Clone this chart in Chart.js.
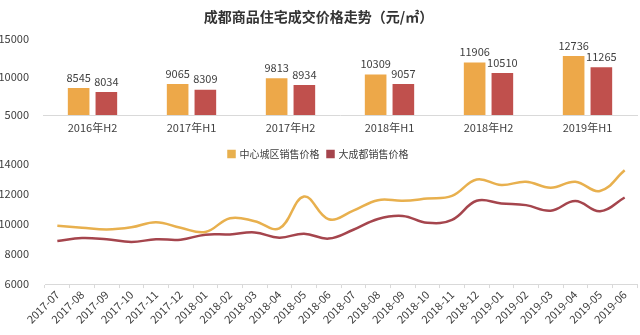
<!DOCTYPE html>
<html>
<head>
<meta charset="utf-8">
<script src="https://cdn.jsdelivr.net/npm/chart.js@4"></script>
<style>
  body { margin: 0; background: #fff; }
  #wrap { position: relative; width: 640px; height: 335px; }
  #top-box { position: absolute; left: 0; top: 0; width: 640px; height: 140px; }
  #bot-box { position: absolute; left: 0; top: 140px; width: 640px; height: 195px; }
</style>
</head>
<body>
<div id="wrap">
  <div id="top-box"><canvas id="bar-chart"></canvas></div>
  <div id="bot-box"><canvas id="line-chart"></canvas></div>
</div>
<script>
// half-year averages
const halfYears = ['2016年H2', '2017年H1', '2017年H2', '2018年H1', '2018年H2', '2019年H1'];
const centerHalf = [8545, 9065, 9813, 10309, 11906, 12736];
const cityHalf = [8034, 8309, 8934, 9057, 10510, 11265];

// monthly prices
const months = ['2017-07', '2017-08', '2017-09', '2017-10', '2017-11', '2017-12',
  '2018-01', '2018-02', '2018-03', '2018-04', '2018-05', '2018-06',
  '2018-07', '2018-08', '2018-09', '2018-10', '2018-11', '2018-12',
  '2019-01', '2019-02', '2019-03', '2019-04', '2019-05', '2019-06'];
const centerMonthly = [9880, 9760, 9640, 9780, 10120, 9750, 9470, 10390, 10190, 9710, 11830, 10320,
  10890, 11590, 11550, 11700, 11880, 12970, 12600, 12820, 12420, 12820, 12200, 13580];
const cityMonthly = [8870, 9070, 8980, 8810, 8980, 8960, 9290, 9310, 9440, 9090, 9360, 9030,
  9620, 10340, 10540, 10080, 10280, 11550, 11370, 11260, 10890, 11530, 10850, 11770];

const seriesNames = ['中心城区销售价格', '大成都销售价格'];

const FONT = '"Noto Sans CJK SC", "Noto Sans", sans-serif';
const TXT = '#404040';
const AXIS = '#d9d9d9';

const barLabels = {
  id: 'barLabels',
  afterDatasetsDraw(chart) {
    const ctx = chart.ctx;
    ctx.save();
    ctx.font = '11px ' + FONT;
    ctx.fillStyle = TXT;
    ctx.textAlign = 'center';
    ctx.textBaseline = 'bottom';
    chart.data.datasets.forEach((ds, i) => {
      chart.getDatasetMeta(i).data.forEach((bar, j) => {
        ctx.fillText(ds.data[j], bar.x, bar.y - 5);
      });
    });
    ctx.restore();
  }
};

new Chart(document.getElementById('bar-chart'), {
  type: 'bar',
  data: {
    labels: halfYears,
    datasets: [
      { label: seriesNames[0], data: centerHalf, backgroundColor: '#eda849' },
      { label: seriesNames[1], data: cityHalf, backgroundColor: '#c0504d' },
    ]
  },
  options: {
    responsive: true, maintainAspectRatio: false, animation: false,
    categoryPercentage: 0.56, barPercentage: 0.78,
    layout: { padding: { right: 3, top: 0, bottom: 0 } },
    plugins: {
      legend: { display: false },
      tooltip: { enabled: false },
      title: {
        display: true, text: '成都商品住宅成交价格走势（元/㎡）',
        color: '#333', font: { family: FONT, size: 14, weight: 'bold' },
        padding: { top: 8, bottom: 14 }
      }
    },
    scales: {
      x: {
        afterFit: s => { s.height = 25; },
        grid: { display: false },
        border: { color: AXIS },
        ticks: { color: TXT, font: { family: FONT, size: 11 }, padding: -2 }
      },
      y: {
        min: 5000, max: 15000,
        afterFit: s => { s.width = 43; },
        grid: { display: false },
        border: { display: false },
        ticks: { stepSize: 5000, color: TXT, font: { family: FONT, size: 11 }, padding: 6, callback: v => String(v) }
      }
    }
  },
  plugins: [barLabels]
});

new Chart(document.getElementById('line-chart'), {
  type: 'line',
  data: {
    labels: months,
    datasets: [
      { label: seriesNames[0], data: centerMonthly, borderColor: '#e8b04e', backgroundColor: '#e8b04e',
        borderWidth: 2.5, tension: 0.4, pointRadius: 0, fill: false },
      { label: seriesNames[1], data: cityMonthly, borderColor: '#a5454d', backgroundColor: '#a5454d',
        borderWidth: 2.5, tension: 0.4, pointRadius: 0, fill: false },
    ]
  },
  options: {
    responsive: true, maintainAspectRatio: false, animation: false,
    layout: { padding: { right: 3, top: 1, bottom: 9 } },
    plugins: {
      legend: {
        position: 'top', maxHeight: 23,
        labels: { boxWidth: 6, boxHeight: 6, padding: 8, color: TXT, font: { family: FONT, size: 10 } }
      },
      tooltip: { enabled: false }
    },
    scales: {
      x: {
        offset: true,
        grid: { offset: true, drawOnChartArea: false, tickLength: 4, color: AXIS },
        border: { color: AXIS },
        ticks: { minRotation: 45, maxRotation: 45, color: TXT, font: { family: FONT, size: 11 }, padding: 0 }
      },
      y: {
        min: 6000, max: 14000,
        afterFit: s => { s.width = 45; },
        grid: { display: false },
        border: { display: false },
        ticks: { stepSize: 2000, color: TXT, font: { family: FONT, size: 11 }, padding: 8, callback: v => String(v) }
      }
    }
  }
});
</script>
</body>
</html>
